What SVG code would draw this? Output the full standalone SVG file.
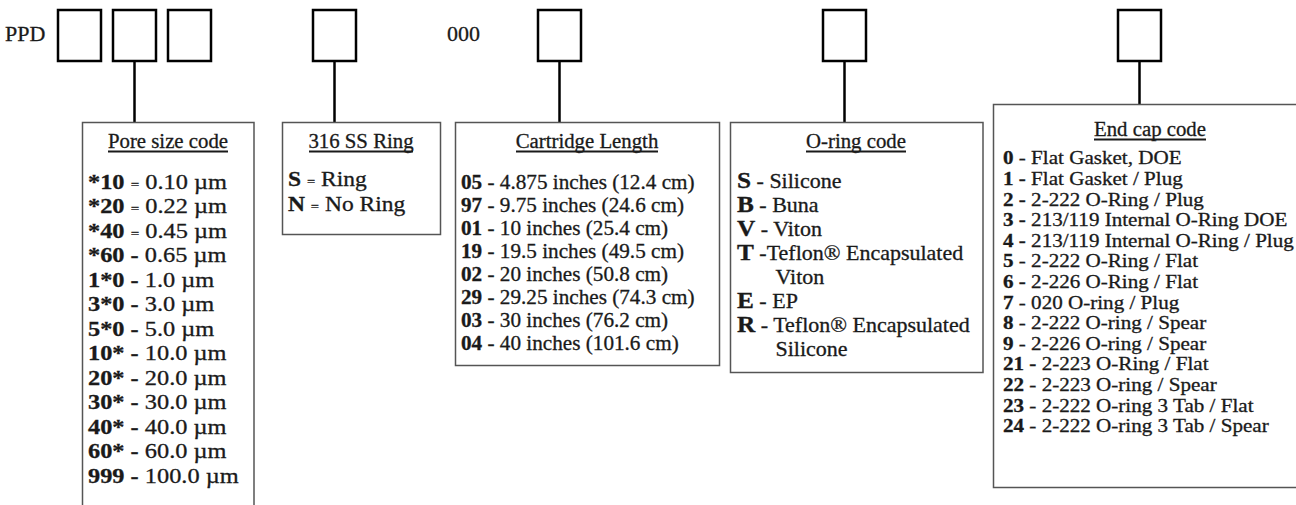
<svg xmlns="http://www.w3.org/2000/svg" width="1296" height="505" viewBox="0 0 1296 505" font-family="'Liberation Serif', 'DejaVu Serif', 'Times New Roman', serif">
<style>
text{font-family:'Liberation Serif','DejaVu Serif','Times New Roman',serif;fill:#1a1a1a;stroke:#1a1a1a;stroke-width:0.3}
.code{fill:#fff;stroke:#000;stroke-width:2.5}
.panel{fill:#fff;stroke:#555;stroke-width:1.5}
.conn line{stroke:#000;stroke-width:2.5}
.ul{stroke:#1a1a1a;stroke-width:2}
.ti{font-size:20px}
.b{font-weight:bold}
.eq{font-size:13px}
.r21{font-size:21px}
.r20{font-size:20px}
.r185{font-size:18.5px}
.big{font-size:23px;font-weight:bold}
.pre{font-size:22px}
</style>
<g id="prefix">
<text class="pre" x="5" y="41">PPD</text>
<text class="pre" x="447" y="41">000</text>
</g>
<g id="code-boxes">
<rect id="box1" class="code" x="58" y="10" width="43" height="51"/>
<rect id="box2" class="code" x="113" y="10" width="43" height="51"/>
<rect id="box3" class="code" x="168" y="10" width="43" height="51"/>
<rect id="box4" class="code" x="313" y="10" width="43" height="51"/>
<rect id="box5" class="code" x="538" y="10" width="43" height="51"/>
<rect id="box6" class="code" x="823" y="10" width="43" height="51"/>
<rect id="box7" class="code" x="1118" y="10" width="43" height="51"/>
</g>
<g id="connectors" class="conn">
<line x1="134.5" y1="61" x2="134.5" y2="122"/>
<line x1="334.5" y1="61" x2="334.5" y2="122"/>
<line x1="559.5" y1="61" x2="559.5" y2="122"/>
<line x1="844.5" y1="61" x2="844.5" y2="122"/>
<line x1="1139.5" y1="61" x2="1139.5" y2="104"/>
</g>
<g id="pore-size">
<rect class="panel" x="82.5" y="122.5" width="171.5" height="400"/>
<text class="ti" transform="translate(168 148) scale(1.04 1)" text-anchor="middle">Pore size code</text>
<line class="ul" x1="108" y1="151.5" x2="228" y2="151.5"/>
<g class="r21" transform="translate(88 0) scale(1.16 1)">
<text y="189"><tspan class="b">*10</tspan>  <tspan class="eq">=</tspan> 0.10 µm</text>
<text y="213.5"><tspan class="b">*20</tspan>  <tspan class="eq">=</tspan> 0.22 µm</text>
<text y="238"><tspan class="b">*40</tspan>  <tspan class="eq">=</tspan> 0.45 µm</text>
<text y="262.5"><tspan class="b">*60 -</tspan> 0.65 µm</text>
<text y="287"><tspan class="b">1*0 -</tspan> 1.0 µm</text>
<text y="311.5"><tspan class="b">3*0 -</tspan> 3.0 µm</text>
<text y="336"><tspan class="b">5*0 -</tspan> 5.0 µm</text>
<text y="360.5"><tspan class="b">10* -</tspan> 10.0 µm</text>
<text y="385"><tspan class="b">20* -</tspan> 20.0 µm</text>
<text y="409.5"><tspan class="b">30* -</tspan> 30.0 µm</text>
<text y="434"><tspan class="b">40* -</tspan> 40.0 µm</text>
<text y="458.5"><tspan class="b">60* -</tspan> 60.0 µm</text>
<text y="483"><tspan class="b">999 -</tspan> 100.0 µm</text>
</g>
</g>
<g id="ss-ring">
<rect class="panel" x="282.5" y="122.5" width="158" height="112"/>
<text class="ti" transform="translate(361 148) scale(1.04 1)" text-anchor="middle">316 SS Ring</text>
<line class="ul" x1="309" y1="151.5" x2="413" y2="151.5"/>
<g class="r21" transform="translate(288 0) scale(1.12 1)">
<text y="186"><tspan class="b">S</tspan> <tspan class="eq">=</tspan> Ring</text>
<text y="211"><tspan class="b">N</tspan> <tspan class="eq">=</tspan> No Ring</text>
</g>
</g>
<g id="cartridge-length">
<rect class="panel" x="455.5" y="122.5" width="264" height="243"/>
<text class="ti" transform="translate(587 148) scale(1.04 1)" text-anchor="middle">Cartridge Length</text>
<line class="ul" x1="516" y1="151.5" x2="658" y2="151.5"/>
<g class="r20" transform="translate(461 0) scale(1.06 1)">
<text y="189"><tspan class="b">05</tspan> - 4.875 inches (12.4 cm)</text>
<text y="212"><tspan class="b">97</tspan> - 9.75 inches (24.6 cm)</text>
<text y="235"><tspan class="b">01</tspan> - 10 inches (25.4 cm)</text>
<text y="258"><tspan class="b">19</tspan> - 19.5 inches (49.5 cm)</text>
<text y="281"><tspan class="b">02</tspan> - 20 inches (50.8 cm)</text>
<text y="304"><tspan class="b">29</tspan> - 29.25 inches (74.3 cm)</text>
<text y="327"><tspan class="b">03</tspan> - 30 inches (76.2 cm)</text>
<text y="350"><tspan class="b">04</tspan> - 40 inches (101.6 cm)</text>
</g>
</g>
<g id="o-ring">
<rect class="panel" x="730.5" y="122.5" width="252.5" height="250"/>
<text class="ti" transform="translate(856 148) scale(1.04 1)" text-anchor="middle">O-ring code</text>
<line class="ul" x1="806" y1="151.5" x2="906" y2="151.5"/>
<g class="r20" transform="translate(737 0) scale(1.1 1)">
<text y="188"><tspan class="big">S</tspan> - Silicone</text>
<text y="212"><tspan class="big">B</tspan> - Buna</text>
<text y="236"><tspan class="big">V</tspan> - Viton</text>
<text y="260"><tspan class="big">T</tspan> -Teflon® Encapsulated</text>
<text x="35" y="284">Viton</text>
<text y="308"><tspan class="big">E</tspan> - EP</text>
<text y="332"><tspan class="big">R</tspan> - Teflon® Encapsulated</text>
<text x="35" y="356">Silicone</text>
</g>
</g>
<g id="end-cap">
<rect class="panel" x="993.5" y="104.5" width="320" height="383"/>
<text class="ti" transform="translate(1150 136) scale(1.04 1)" text-anchor="middle">End cap code</text>
<line class="ul" x1="1094" y1="139.5" x2="1206" y2="139.5"/>
<g class="r185" transform="translate(1003 0) scale(1.14 1)">
<text y="164.5"><tspan class="b">0</tspan> - Flat Gasket, DOE</text>
<text y="185.1"><tspan class="b">1 -</tspan> Flat Gasket / Plug</text>
<text y="205.7"><tspan class="b">2 -</tspan> 2-222 O-Ring / Plug</text>
<text y="226.3"><tspan class="b">3 -</tspan> 213/119 Internal O-Ring DOE</text>
<text y="246.9"><tspan class="b">4 -</tspan> 213/119 Internal O-Ring / Plug</text>
<text y="267.5"><tspan class="b">5</tspan> - 2-222 O-Ring / Flat</text>
<text y="288.1"><tspan class="b">6 -</tspan> 2-226 O-Ring / Flat</text>
<text y="308.7"><tspan class="b">7</tspan> - 020 O-ring  / Plug</text>
<text y="329.3"><tspan class="b">8</tspan> - 2-222 O-ring / Spear</text>
<text y="349.9"><tspan class="b">9</tspan> - 2-226 O-ring / Spear</text>
<text y="370.5"><tspan class="b">21 -</tspan> 2-223 O-Ring / Flat</text>
<text y="391.1"><tspan class="b">22</tspan> - 2-223 O-ring / Spear</text>
<text y="411.7"><tspan class="b">23</tspan> - 2-222 O-ring 3 Tab / Flat</text>
<text y="432.3"><tspan class="b">24</tspan> - 2-222 O-ring 3 Tab / Spear</text>
</g>
</g>
</svg>
